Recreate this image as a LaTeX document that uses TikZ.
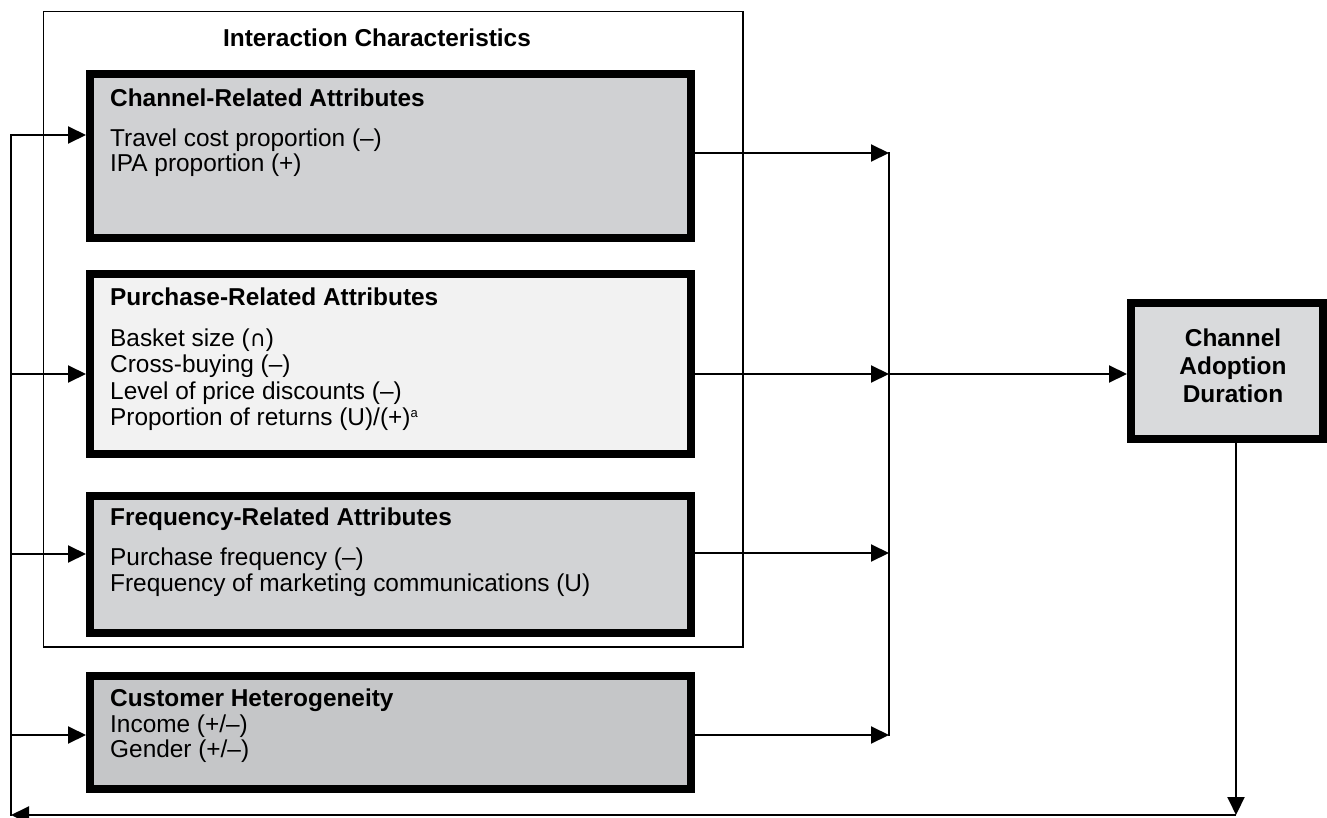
\documentclass[tikz,border=0pt]{standalone}
\usepackage{fontspec}
\setmainfont{Liberation Sans}
\newfontfamily\symfont{DejaVu Sans}
\usetikzlibrary{arrows.meta}
\definecolor{chanfill}{RGB}{208,209,211}
\definecolor{purchfill}{RGB}{242,242,242}
\definecolor{freqfill}{RGB}{210,211,213}
\definecolor{custfill}{RGB}{197,198,200}
\definecolor{cadfill}{RGB}{217,218,220}
\begin{document}
\begin{tikzpicture}[x=1pt,y=-1pt,
  attbox/.style={draw=black,line width=8pt,anchor=north west,inner sep=0pt},
  conn/.style={line width=2pt,-{Triangle[length=18pt,width=17pt]}},
  plainline/.style={line width=2pt},
  txt/.style={anchor=base west,inner sep=0pt,font=\fontsize{24.4}{26}\selectfont},
  btxt/.style={anchor=base west,inner sep=0pt,font=\fontsize{24.4}{26}\selectfont\bfseries},
  ctxt/.style={anchor=base,inner sep=0pt,font=\fontsize{24.4}{26}\selectfont\bfseries}]
\useasboundingbox (0,0) rectangle (1327,818);

% outer group box
\node[draw=black,line width=1.6pt,anchor=north west,inner sep=0pt,outer sep=0pt,
      minimum width=699.5pt,minimum height=635.5pt] (ic) at (43.5,11.5) {};
\node[ctxt] (ictitle) at (377,47) {Interaction Characteristics};

% attribute boxes
\node[attbox,fill=chanfill,minimum width=601pt,minimum height=164pt] (chan) at (86,70) {};
\node[attbox,fill=purchfill,minimum width=601pt,minimum height=180pt] (purch) at (86,270) {};
\node[attbox,fill=freqfill,minimum width=601pt,minimum height=137pt] (freq) at (86,492) {};
\node[attbox,fill=custfill,minimum width=601pt,minimum height=113pt] (cust) at (86,672) {};
\node[attbox,fill=cadfill,minimum width=192pt,minimum height=136pt] (cad) at (1127,299) {};

% texts
\node[btxt] (chant) at (110,106.5) {Channel-Related Attributes};
\node[txt] (chan1) at (110,146.5) {Travel cost proportion (–)};
\node[txt] (chan2) at (110,172) {IPA proportion (+)};

\node[btxt] (purcht) at (110,305) {Purchase-Related Attributes};
\node[txt] (purch1) at (110,346) {Basket size ({\symfont\fontsize{22}{26}\selectfont ∩})};
\node[txt] (purch2) at (110,372) {Cross-buying (–)};
\node[txt] (purch3) at (110,399) {Level of price discounts (–)};
\node[txt] (purch4) at (110,425) {Proportion of returns (U)/(+)\raisebox{8pt}{\fontsize{13}{14}\selectfont a}};

\node[btxt] (freqt) at (110,525) {Frequency-Related Attributes};
\node[txt] (freq1) at (110,565) {Purchase frequency (–)};
\node[txt] (freq2) at (110,591.5) {Frequency of marketing communications (U)};

\node[btxt] (custt) at (110,706.5) {Customer Heterogeneity};
\node[txt] (cust1) at (110,732.5) {Income (+/–)};
\node[txt] (cust2) at (110,757) {Gender (+/–)};

\node[ctxt] (cad1) at (1233,346) {Channel};
\node[ctxt] (cad2) at (1233,374) {Adoption};
\node[ctxt] (cad3) at (1233,402.5) {Duration};

% junction coordinates
\coordinate (L1) at (11,135);
\coordinate (L2) at (11,374);
\coordinate (L3) at (11,554);
\coordinate (L4) at (11,735);
\coordinate (LB) at (11,815);
\coordinate (R1) at (889,153);
\coordinate (R2) at (889,374);
\coordinate (R3) at (889,553);
\coordinate (R4) at (889,735);
\coordinate (BR) at (1236,815);

% feedback loop on the left
\draw[plainline,line cap=rect] (L1) -- (LB);
\draw[conn] (L1) -- (chan.west |- L1);
\draw[conn] (L2) -- (purch.west |- L2);
\draw[conn] (L3) -- (freq.west |- L3);
\draw[conn] (L4) -- (cust.west |- L4);

% outputs to the right collector
\draw[conn] (chan.east |- R1) -- (R1);
\draw[conn] (purch.east |- R2) -- (R2);
\draw[conn] (freq.east |- R3) -- (R3);
\draw[conn] (cust.east |- R4) -- (R4);
\draw[plainline,line cap=rect] (R1) -- (R4);
\draw[conn] (R2) -- (cad.west |- R2);

% feedback from outcome
\draw[conn] (cad.south -| BR) -- (BR);
\draw[conn] (BR) -- (LB);
\end{tikzpicture}
\end{document}
